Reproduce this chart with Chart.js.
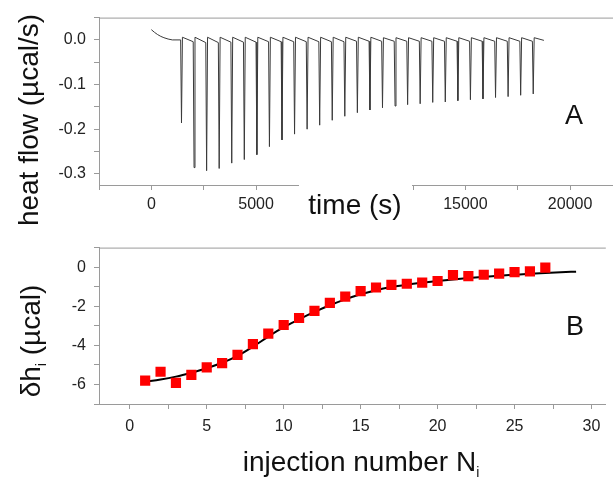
<!DOCTYPE html>
<html>
<head>
<meta charset="utf-8">
<script src="https://cdn.jsdelivr.net/npm/chart.js@4.4.0/dist/chart.umd.min.js"></script>
<style>
  html, body { margin: 0; padding: 0; background: #fff; }
  #wrap { position: relative; width: 613px; height: 478px; overflow: hidden; }
  #wrap canvas { position: absolute; left: 0; }
  #cA { top: 0; }
  #cB { top: 230px; }
</style>
</head>
<body>
<div id="wrap">
  <canvas id="cA" width="613" height="230" style="width:613px;height:230px"></canvas>
  <canvas id="cB" width="613" height="248" style="width:613px;height:248px"></canvas>
</div>
<script>
// ---- panel A: raw thermogram ----
const warmupTime = [0, 150, 300, 450, 600, 800, 1000];
const warmupFlow = [0.023, 0.017, 0.012, 0.008, 0.005, 0.002, 0.0];

const injTime = [1400, 2000, 2600, 3200, 3800, 4400, 5000, 5600, 6200, 6800,
  7400, 8000, 8600, 9200, 9800, 10400, 11000, 11600, 12200, 12800,
  13400, 14000, 14600, 15200, 15800, 16400, 17000, 17600, 18200];
const spikeMin = [-0.186, -0.286, -0.293, -0.288, -0.276, -0.268, -0.257, -0.239, -0.224, -0.211,
  -0.200, -0.191, -0.180, -0.171, -0.163, -0.157, -0.152, -0.148, -0.145, -0.143,
  -0.140, -0.139, -0.136, -0.134, -0.132, -0.129, -0.127, -0.124, -0.121];
// level just before each injection, and the small overshoot right after it
const preFlow = [0.0, -0.004, -0.006, -0.006, -0.005, -0.005, -0.005, -0.004, -0.004, -0.004,
  -0.004, -0.004, -0.004, -0.004, -0.003, -0.003, -0.003, -0.003, -0.003, -0.003,
  -0.003, -0.003, -0.003, -0.003, -0.003, -0.003, -0.003, -0.003, -0.003];
const postFlow = [0.006, 0.006, 0.006, 0.006, 0.006, 0.006, 0.006, 0.006, 0.006, 0.006,
  0.006, 0.006, 0.006, 0.006, 0.006, 0.006, 0.005, 0.005, 0.005, 0.005,
  0.005, 0.005, 0.005, 0.005, 0.005, 0.005, 0.005, 0.005, 0.005];
const endTime = 18750;
const endFlow = -0.001;

const timeMajor = [0, 5000, 10000, 15000, 20000];
const timeMinor = [-2500, 2500, 7500, 12500, 17500];
const flowMajor = [0.0, -0.1, -0.2, -0.3];
const flowMinor = [0.05, -0.05, -0.15, -0.25];

// ---- panel B: integrated heats + fit ----
const injNumber = [1, 2, 3, 4, 5, 6, 7, 8, 9, 10, 11, 12, 13, 14, 15, 16, 17, 18, 19, 20,
  21, 22, 23, 24, 25, 26, 27];
const dh = [-5.80, -5.35, -5.92, -5.51, -5.13, -4.91, -4.49, -3.94, -3.40, -2.96,
  -2.60, -2.24, -1.83, -1.51, -1.23, -1.04, -0.91, -0.85, -0.79, -0.71,
  -0.41, -0.46, -0.39, -0.33, -0.25, -0.22, -0.02];
const fitN = [1, 2, 3, 4, 5, 6, 7, 8, 9, 10, 11, 12, 13, 14, 15, 16, 17, 18, 19, 20,
  21, 22, 23, 24, 25, 26, 27, 28, 29];
const fitDh = [-5.86, -5.75, -5.60, -5.40, -5.17, -4.89, -4.54, -4.07, -3.55, -3.07,
  -2.67, -2.29, -1.95, -1.65, -1.39, -1.18, -1.02, -0.90, -0.80, -0.71,
  -0.63, -0.56, -0.50, -0.44, -0.39, -0.34, -0.30, -0.26, -0.23];

const nMajor = [0, 5, 10, 15, 20, 25, 30];
const nMinor = [2.5, 7.5, 12.5, 17.5, 22.5, 27.5];
const dhMajor = [0, -2, -4, -6];
const dhMinor = [1, -1, -3, -5, -7];

const FONT = '"Liberation Sans", Arial, sans-serif';
const AXIS = "#9a9a9a";
const TEXT = "#222";

// thermogram polyline built from the arrays above
const thermo = warmupTime.map((t, i) => ({ x: t, y: warmupFlow[i] }));
injTime.forEach((t, i) => {
  thermo.push({ x: t, y: preFlow[i] });
  thermo.push({ x: t + 40, y: spikeMin[i] });
  thermo.push({ x: t + 85, y: postFlow[i] });
});
thermo.push({ x: endTime, y: endFlow });

function isIn(list, v) {
  return list.some((m) => Math.abs(m - v) < 1e-6);
}

function axisTicks(major, minor) {
  return (scale) => {
    scale.ticks = major.concat(minor).sort((a, b) => a - b).map((v) => ({ value: v }));
  };
}

function baseScale(major, minor, fmt, padding) {
  return {
    type: "linear",
    afterBuildTicks: axisTicks(major, minor),
    grid: { drawOnChartArea: false, drawTicks: true, tickLength: 5, color: AXIS, tickColor: AXIS },
    border: { color: AXIS, width: 1 },
    ticks: {
      autoSkip: false,
      maxRotation: 0,
      padding: padding,
      color: TEXT,
      font: { family: FONT, size: 16 },
      callback: (v) => (isIn(major, v) ? fmt(v) : ""),
    },
  };
}

// text drawn in pieces so that subscripts can sit lower and smaller
function drawParts(ctx, parts, x, y) {
  let total = 0;
  parts.forEach((p) => { ctx.font = p[1] + "px " + FONT; total += ctx.measureText(p[0]).width; });
  let cx = x - total / 2;
  parts.forEach((p) => {
    ctx.font = p[1] + "px " + FONT;
    ctx.fillText(p[0], cx, y + p[2]);
    cx += ctx.measureText(p[0]).width;
  });
}

function labelsPlugin(cfg) {
  return {
    id: "panelText",
    afterDraw(chart) {
      const ctx = chart.ctx;
      const a = chart.chartArea;
      ctx.save();
      // frame top edge
      ctx.strokeStyle = AXIS;
      ctx.lineWidth = 1;
      ctx.beginPath();
      ctx.moveTo(a.left, a.top + 0.5);
      ctx.lineTo(a.right, a.top + 0.5);
      ctx.stroke();

      if (cfg.gap) {
        ctx.fillStyle = "#fff";
        ctx.fillRect(cfg.gap[0], a.bottom - 3, cfg.gap[1] - cfg.gap[0], 45);
      }
      ctx.fillStyle = "#111";
      ctx.textAlign = "left";
      ctx.textBaseline = "alphabetic";
      drawParts(ctx, cfg.xTitle, cfg.xTitlePos[0], cfg.xTitlePos[1]);

      ctx.save();
      ctx.translate(cfg.yTitlePos[0], cfg.yTitlePos[1]);
      ctx.rotate(-Math.PI / 2);
      drawParts(ctx, cfg.yTitle, 0, 0);
      ctx.restore();

      ctx.font = "27px " + FONT;
      ctx.textAlign = "center";
      ctx.textBaseline = "middle";
      ctx.fillText(cfg.tag, cfg.tagPos[0], cfg.tagPos[1]);
      ctx.restore();
    },
  };
}

const xA = baseScale(timeMajor, timeMinor, (v) => String(v), 5);
xA.min = -2500;
xA.max = 22050;
xA.afterFit = (s) => { s.height = 45; };
const yA = baseScale(flowMajor, flowMinor, (v) => v.toFixed(1), 8);
yA.min = -0.325;
yA.max = 0.05;
yA.afterFit = (s) => { s.width = 99; };

new Chart(document.getElementById("cA"), {
  type: "line",
  data: {
    datasets: [{
      data: thermo,
      borderColor: "#3a3a3a",
      borderWidth: 1,
      pointRadius: 0,
      tension: 0,
      fill: false,
    }],
  },
  options: {
    responsive: false,
    animation: false,
    layout: { padding: { top: 15, right: 0, bottom: 0, left: 0 } },
    plugins: { legend: { display: false }, tooltip: { enabled: false } },
    scales: { x: xA, y: yA },
  },
  plugins: [labelsPlugin({
    gap: [299, 412],
    xTitle: [["time (s)", 28, 0]],
    xTitlePos: [355, 214],
    yTitle: [["heat flow (\u00b5cal/s)", 28, 0]],
    yTitlePos: [38, 120],
    tag: "A",
    tagPos: [574, 117],
  })],
});

const xB = baseScale(nMajor, nMinor, (v) => String(v), 8);
xB.min = -2;
xB.max = 30.93;
xB.afterFit = (s) => { s.height = 74; };
const yB = baseScale(dhMajor, dhMinor, (v) => String(v), 8);
yB.min = -7;
yB.max = 1;
yB.afterFit = (s) => { s.width = 99; };

new Chart(document.getElementById("cB"), {
  type: "scatter",
  data: {
    datasets: [
      {
        type: "line",
        data: fitN.map((n, i) => ({ x: n, y: fitDh[i] })),
        borderColor: "#000",
        borderWidth: 2,
        pointRadius: 0,
        tension: 0.4,
        cubicInterpolationMode: "monotone",
        fill: false,
        order: 2,
      },
      {
        data: injNumber.map((n, i) => ({ x: n, y: dh[i] })),
        pointStyle: "rect",
        pointRadius: 7.2,
        backgroundColor: "#f00",
        borderColor: "#f00",
        borderWidth: 0,
        order: 1,
      },
    ],
  },
  options: {
    responsive: false,
    animation: false,
    layout: { padding: { top: 5, right: 0, bottom: 0, left: 0 } },
    plugins: { legend: { display: false }, tooltip: { enabled: false } },
    scales: { x: xB, y: yB },
  },
  plugins: [labelsPlugin({
    gap: null,
    xTitle: [["injection number N", 28, 0], ["i", 14, 6]],
    xTitlePos: [361, 241],
    yTitle: [["\u03b4h", 28, 0], ["i", 14, 6], [" (\u00b5cal)", 28, 0]],
    yTitlePos: [40, 111],
    tag: "B",
    tagPos: [575, 98],
  })],
});
</script>
</body>
</html>
